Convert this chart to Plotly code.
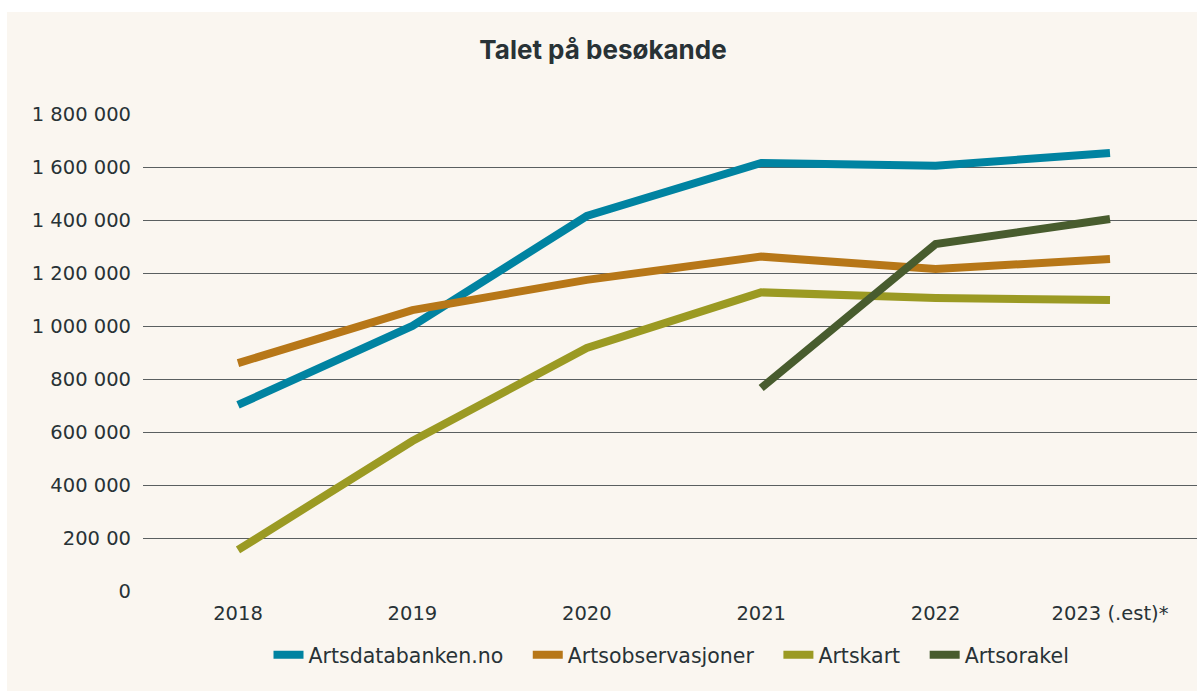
import plotly.graph_objects as go

categories = ["2018", "2019", "2020", "2021", "2022", "2023 (.est)*"]
artsdatabanken = [702000, 1000000, 1415000, 1615000, 1605000, 1653000]
artsobservasjoner = [860000, 1060000, 1174000, 1262000, 1215000, 1253000]
artskart = [155000, 566000, 917000, 1127000, 1106000, 1098000]
artsorakel = [None, None, None, 766000, 1309000, 1404000]

ytick_vals = [0, 200000, 400000, 600000, 800000, 1000000, 1200000, 1400000, 1600000, 1800000]
ytick_text = ["0", "200 00", "400 000", "600 000", "800 000", "1 000 000",
              "1 200 000", "1 400 000", "1 600 000", "1 800 000"]

series_names = ["Artsdatabanken.no", "Artsobservasjoner", "Artskart", "Artsorakel"]
series_values = [artsdatabanken, artsobservasjoner, artskart, artsorakel]
series_colors = ["#0083a1", "#b77718", "#9b9a23", "#485c2e"]

FONT = "DejaVu Sans"
TFONT = "Inter"
TXT = "#283236"
CREAM = "#faf6f0"
PAD = "\u00a0" * 3

fig = go.Figure()
xs = list(range(len(categories)))
for i, (name, vals, col) in enumerate(zip(series_names, series_values, series_colors)):
    label = name + (PAD if i < len(series_names) - 1 else "")
    fig.add_trace(go.Scatter(x=xs, y=vals, name=label, mode="lines",
                             line=dict(color=col, width=8), connectgaps=False))

W, H = 1197, 691
ml, mr, mt, mb = 143, 0, 114, 100
pw, ph = W - ml - mr, H - mt - mb

fig.update_layout(
    width=W, height=H,
    margin=dict(l=ml, r=mr, t=mt, b=mb),
    paper_bgcolor="white",
    plot_bgcolor=CREAM,
    font=dict(family=FONT, color=TXT, size=19),
    title=dict(text="<b>Talet på besøkande</b>", x=603 / W, xref="container", xanchor="center",
               y=1 - 50 / H, yref="container", yanchor="middle",
               font=dict(family=TFONT, size=26, color=TXT)),
    showlegend=True,
    legend=dict(orientation="h", x=(671.5 - ml) / pw, xanchor="center", y=(591 - 655) / ph,
                yanchor="middle",
                font=dict(family=FONT, size=20.5, color=TXT), bgcolor="rgba(0,0,0,0)",
                itemwidth=30, tracegroupgap=0),
    xaxis=dict(range=[-(238 - 143) / 174.4, (1197 - 238) / 174.4], tickmode="array",
               tickvals=xs, ticktext=categories, showgrid=False, zeroline=False,
               showline=False, ticks="", ticklabelstandoff=8,
               tickfont=dict(family=FONT, size=19.5, color=TXT)),
    yaxis=dict(range=[0, 1800000], tickmode="array", tickvals=ytick_vals, ticktext=ytick_text,
               showgrid=True, gridcolor="#5a5f60", gridwidth=1.3, zeroline=False,
               showline=False, ticks="", ticklabelstandoff=11,
               tickfont=dict(family=FONT, size=19.5, color=TXT)),
    shapes=[dict(type="rect", xref="paper", yref="paper", layer="below",
                 x0=(7 - ml) / pw, x1=1.02, y0=-(H - 591 + 5) / ph, y1=(591 - 12) / ph,
                 fillcolor=CREAM, line=dict(width=0))],
)

fig.write_html("out.html", config={"displayModeBar": False},
               post_script="document.body.style.margin='0px';document.body.style.overflow='hidden';")
